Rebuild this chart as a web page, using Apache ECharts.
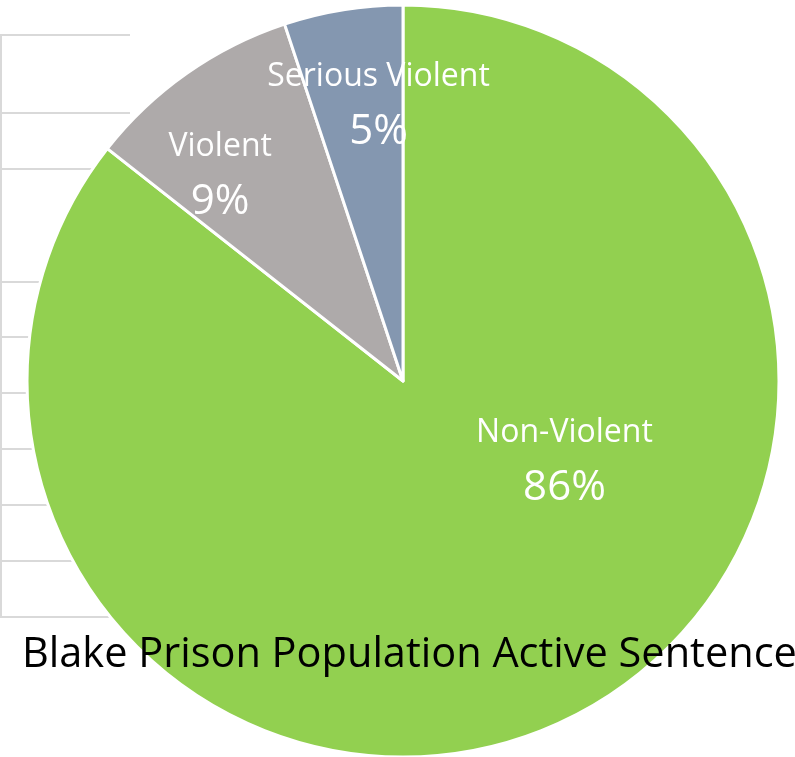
<!DOCTYPE html>
<html>
<head>
<meta charset="utf-8">
<script src="https://cdn.jsdelivr.net/npm/echarts@6/dist/echarts.min.js"></script>
<style>html,body{margin:0;padding:0;background:#fff}#c{width:795px;height:757px}</style>
</head>
<body>
<div id="c"></div>
<script>
var categories = ['Non-Violent', 'Violent', 'Serious Violent'];
var values = [85.6, 9.3, 5.1];
var percentLabels = ['86%', '9%', '5%'];
var colors = ['#92D050', '#AEAAAA', '#8497B0'];
var labelOffsets = [[78, -92], [-73, -50], [6, -88]];
var gridLineY = [35, 113, 169, 282, 337, 393, 449, 505, 561, 617];

var chart = echarts.init(document.getElementById('c'));
var graphics = gridLineY.map(function (y) {
  return { type: 'line', z: -10, shape: { x1: 0, y1: y, x2: 130, y2: y }, style: { stroke: '#D9D9D9', lineWidth: 2 } };
});
graphics.push({ type: 'line', z: -10, shape: { x1: 1, y1: 35, x2: 1, y2: 617 }, style: { stroke: '#D9D9D9', lineWidth: 2 } });

chart.setOption({
  animation: false,
  title: {
    text: 'Blake Prison Population Active Sentence',
    left: 17, top: 629,
    textStyle: { fontFamily: 'Open Sans', fontWeight: 'normal', fontSize: 41.5, color: '#000' }
  },
  graphic: graphics,
  series: [{
    type: 'pie',
    center: [403, 381],
    radius: [0, 376],
    startAngle: 90,
    clockwise: true,
    avoidLabelOverlap: false,
    minShowLabelAngle: 0,
    labelLayout: { hideOverlap: false },
    itemStyle: { borderColor: '#fff', borderWidth: 3 },
    label: {
      show: true, position: 'inside', color: '#fff', fontFamily: 'Open Sans',
      formatter: function (p) { return '{n|' + p.name + '}\n{p|' + percentLabels[p.dataIndex] + '}'; },
      rich: {
        n: { fontSize: 32, color: '#fff', fontFamily: 'Open Sans', lineHeight: 55 },
        p: { fontSize: 42, color: '#fff', fontFamily: 'Open Sans', lineHeight: 55 }
      }
    },
    labelLine: { show: false },
    data: categories.map(function (c, i) {
      return { name: c, value: values[i], itemStyle: { color: colors[i] }, label: { offset: labelOffsets[i] } };
    })
  }]
});
</script>
</body>
</html>
